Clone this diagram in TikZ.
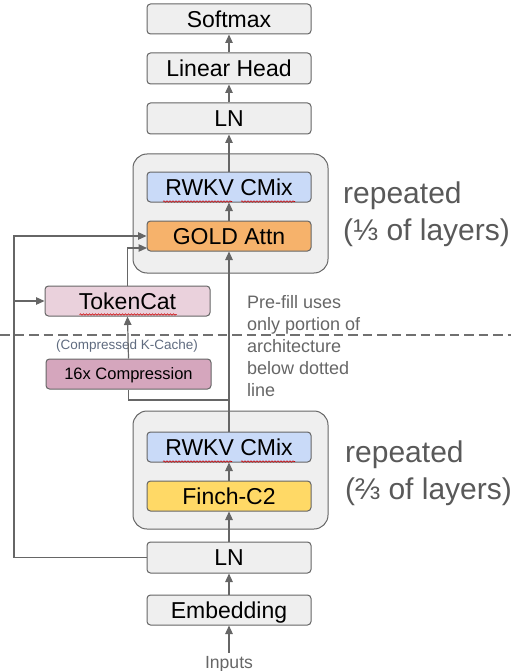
\documentclass[tikz,border=0pt]{standalone}
\usepackage{fontspec}
\setmainfont{Liberation Sans}
\usetikzlibrary{arrows.meta,decorations.pathmorphing,calc}
\definecolor{linegray}{HTML}{666666}
\definecolor{boxgray}{HTML}{EFEFEF}
\definecolor{cmixblue}{HTML}{C9DAF8}
\definecolor{goldorange}{HTML}{F6B26B}
\definecolor{finchyellow}{HTML}{FFD966}
\definecolor{tokpink}{HTML}{EAD1DC}
\definecolor{comppink}{HTML}{D5A6BD}
\definecolor{repgray}{HTML}{595959}
\definecolor{notegray}{HTML}{666666}
\definecolor{cachegray}{HTML}{5F6B7F}
\definecolor{dashgray}{HTML}{707070}
\begin{document}
\begin{tikzpicture}[x=1pt,y=-1pt,
  blk/.style={draw=linegray, line width=1pt, rounded corners=3.5pt,
    minimum width=164pt, minimum height=30pt, inner sep=0pt,
    font=\fontsize{23}{27}\selectfont, text height=16.5pt, text depth=0pt},
  smallblk/.style={blk, font=\fontsize{16.5}{20}\selectfont, text height=11.8pt},
  outerbox/.style={draw=linegray, fill=boxgray, line width=1pt,
    rounded corners=14pt, minimum width=195pt, minimum height=119pt, inner sep=0pt},
  arr/.style={draw=linegray, line width=1.2pt, -{Triangle[length=8.5pt,width=7.5pt]}},
  conn/.style={draw=linegray, line width=1.2pt},
  reptext/.style={inner sep=0pt, anchor=base west, text=repgray,
    font=\fontsize{30}{36}\selectfont},
  notetext/.style={inner sep=0pt, anchor=base west, text=notegray,
    font=\fontsize{18}{22}\selectfont},
  squig/.style={draw=red!80!black, line width=0.6pt, decorate,
    decoration={snake, amplitude=0.7pt, segment length=3pt}}]

\useasboundingbox (0,0) rectangle (511,671);

% outer repeat groups
\node[outerbox] (outer1) at (230.5,213.5) {};
\node[outerbox, minimum height=118pt] (outer2) at (230.5,470) {};

% blocks
\node[blk, fill=boxgray] (softmax) at (229,19) {Softmax};
\node[blk, fill=boxgray, minimum height=31pt] (linear) at (229,68.5) {Linear Head};
\node[blk, fill=boxgray, minimum height=31pt] (ln2) at (229,118.5) {LN};
\node[blk, fill=cmixblue] (cmix1) at (229,187) {RWKV CMix};
\node[blk, fill=goldorange] (gold) at (229,236) {GOLD Attn};
\node[blk, fill=tokpink, minimum width=165pt] (tokencat) at (127.5,301) {TokenCat};
\node[smallblk, fill=comppink, minimum width=165pt] (comp) at (128.5,374) {16x Compression};
\node[blk, fill=cmixblue] (cmix2) at (229,447) {RWKV CMix};
\node[blk, fill=finchyellow] (finch) at (229,496) {Finch-C2};
\node[blk, fill=boxgray, minimum height=31pt] (ln1) at (229,557.5) {LN};
\node[blk, fill=boxgray] (emb) at (229,610) {Embedding};

\node[inner sep=3pt, text=notegray, font=\fontsize{17.6}{20}\selectfont,
  text height=12.6pt, text depth=0pt] (inputs) at (229,662) {Inputs};
\node[inner sep=0pt, text=cachegray, font=\fontsize{13.5}{16}\selectfont,
  text height=9.7pt, text depth=0pt] (cache) at (127,345) {(Compressed K-Cache)};

% side texts
\node[reptext] (rep1a) at (343,203) {repeated};
\node[reptext] (rep1b) at (343,240) {(⅓ of layers)};
\node[reptext] (rep2a) at (345,462) {repeated};
\node[reptext] (rep2b) at (345,499) {(⅔ of layers)};
\node[notetext] (note1) at (247,308) {Pre-fill uses};
\node[notetext] (note2) at (247,330) {only portion of};
\node[notetext] (note3) at (247,352) {architecture};
\node[notetext] (note4) at (247,374) {below dotted};
\node[notetext] (note5) at (247,396) {line};

% dashed separator
\coordinate (dashL) at (0,335);
\coordinate (dashR) at (511,335);
\draw[draw=dashgray, line width=1.2pt, dash pattern=on 9.5pt off 5pt] (dashL) -- (dashR);

% coordinates for routing
\coordinate (leftTop) at (14,236);
\coordinate (leftTok) at (14,301);
\coordinate (goldLow) at (147,248);
\coordinate (branch) at (229,400);

% main spine
\draw[arr] (inputs.north) -- (emb.south);
\draw[arr] (emb.north) -- (ln1.south);
\draw[arr] (ln1.north) -- (finch.south);
\draw[arr] (finch.north) -- (cmix2.south);
\draw[arr] (cmix2.north) -- (gold.south);
\draw[arr] (gold.north) -- (cmix1.south);
\draw[arr] (cmix1.north) -- (ln2.south);
\draw[arr] (ln2.north) -- (linear.south);
\draw[arr] (linear.north) -- (softmax.south);

% left skip connection
\draw[arr] (ln1.west) -| (leftTop) -- (gold.west);
\draw[arr] (leftTok) -- (tokencat.west);

% compression path
\draw[conn] (branch) -| (comp.south);
\draw[arr] (comp.north) -- (tokencat.south);
\draw[arr] (tokencat.north) |- (goldLow);

% spell-check squiggles
\draw[squig] ($(cmix1.south)+(-66,-1)$) -- ($(cmix1.south)+(3,-1)$);
\draw[squig] ($(cmix1.south)+(12,-1)$) -- ($(cmix1.south)+(66,-1)$);
\draw[squig] ($(cmix2.south)+(-66,-1)$) -- ($(cmix2.south)+(3,-1)$);
\draw[squig] ($(cmix2.south)+(12,-1)$) -- ($(cmix2.south)+(66,-1)$);
\draw[squig] ($(tokencat.south)+(-48,-2)$) -- ($(tokencat.south)+(49,-2)$);
\end{tikzpicture}
\end{document}
